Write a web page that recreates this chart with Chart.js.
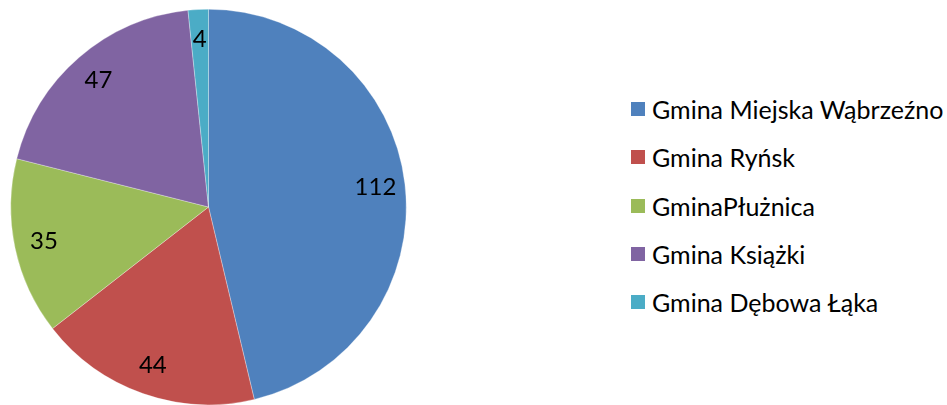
<!DOCTYPE html>
<html>
<head>
<meta charset="utf-8">
<script src="https://cdn.jsdelivr.net/npm/chart.js@4"></script>
<style>
  html, body { margin: 0; padding: 0; background: #fff; }
  #wrap { position: relative; width: 947px; height: 405px; }
  #pieBox { position: absolute; left: 0; top: 0; width: 417px; height: 405px; }
  #legend { position: absolute; left: 631px; top: 85px; font-family: Lato, "Open Sans", sans-serif; font-size: 25px; color: #000; }
  #legend .item { display: flex; align-items: center; height: 48.3px; white-space: nowrap; }
  #legend .box { width: 14px; height: 14px; margin-right: 7px; flex: none; }
</style>
</head>
<body>
<div id="wrap">
  <div id="pieBox"><canvas id="pieChart"></canvas></div>
  <div id="legend"></div>
</div>
<script>
const labels = [
  "Gmina Miejska Wąbrzeźno",
  "Gmina Ryńsk",
  "GminaPłużnica",
  "Gmina Książki",
  "Gmina Dębowa Łąka",
];
const values = [112, 44, 35, 47, 4];
const colors = ["#4F81BD", "#C0504D", "#9BBB59", "#8064A2", "#4BACC6"];

// value labels inside the slices
const sliceLabels = {
  id: "sliceLabels",
  afterDatasetsDraw(chart) {
    const ctx = chart.ctx;
    const meta = chart.getDatasetMeta(0);
    ctx.save();
    ctx.font = "24px Lato, 'Open Sans', sans-serif";
    ctx.fillStyle = "#000";
    ctx.textAlign = "center";
    ctx.textBaseline = "middle";
    meta.data.forEach((arc, i) => {
      const p = arc.getProps(["x", "y", "startAngle", "endAngle", "outerRadius"], true);
      const mid = (p.startAngle + p.endAngle) / 2;
      const r = p.outerRadius * 0.85;
      ctx.fillText(String(values[i]), p.x + Math.cos(mid) * r, p.y + Math.sin(mid) * r);
    });
    ctx.restore();
  },
};

const ctxPie = document.getElementById("pieChart");
new Chart(ctxPie, {
  type: "pie",
  data: {
    labels: labels,
    datasets: [
      {
        data: values,
        backgroundColor: colors,
        borderColor: "rgba(255,255,255,0.6)",
        borderWidth: 0.5,
      },
    ],
  },
  options: {
    responsive: true,
    maintainAspectRatio: false,
    animation: false,
    layout: { padding: { top: 9, bottom: 0, left: 10, right: 10 } },
    plugins: {
      legend: { display: false },
      tooltip: { enabled: false },
    },
  },
  plugins: [sliceLabels],
});

// legend
const legendEl = document.getElementById("legend");
labels.forEach((name, i) => {
  const item = document.createElement("div");
  item.className = "item";
  const box = document.createElement("div");
  box.className = "box";
  box.style.background = colors[i];
  const txt = document.createElement("span");
  txt.textContent = name;
  item.appendChild(box);
  item.appendChild(txt);
  legendEl.appendChild(item);
});
</script>
</body>
</html>
